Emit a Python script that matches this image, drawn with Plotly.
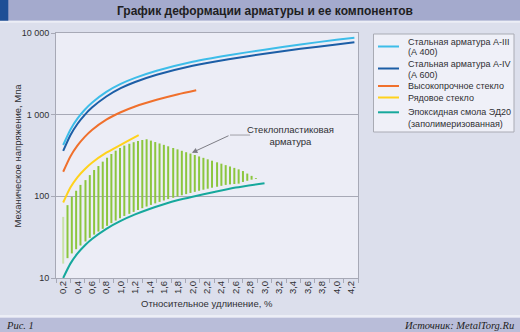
import plotly.graph_objects as go

# ---------------- data ----------------
x_tick_vals = [0.2, 0.4, 0.6, 0.8, 1.0, 1.2, 1.4, 1.6, 1.8, 2.0, 2.2, 2.4, 2.6, 2.8, 3.0,
               3.2, 3.4, 3.6, 3.8, 4.0, 4.2]
x_tick_text = ["0,2", "0,4", "0,6", "0,8", "1,0", "1,2", "1,4", "1,6", "1,8", "2,0", "2,2",
               "2,4", "2,6", "2,8", "3,0", "3,2", "3,4", "3,6", "3,8", "4,0", "4,2"]
x_minor_vals = [0.1, 0.3, 0.5, 0.7, 0.9, 1.1, 1.3, 1.5, 1.7, 1.9, 2.1, 2.3, 2.5, 2.7, 2.9,
                3.1, 3.3, 3.5, 3.7, 3.9, 4.1, 4.3]
y_tick_vals = [10, 100, 1000, 10000]
y_tick_text = ["10", "100", "1 000", "10 000"]

strain_steel = [0.2, 0.3, 0.4, 0.5, 0.6, 0.8, 1.0, 1.2, 1.5, 2.0, 2.5, 3.0, 3.5, 4.0, 4.25]
stress_a3 = [425, 655, 900, 1150, 1400, 1900, 2380, 2820, 3450, 4450, 5350, 6250, 7250, 8250, 8750]
stress_a4 = [360, 560, 775, 995, 1220, 1670, 2110, 2510, 3080, 3980, 4780, 5560, 6400, 7250, 7700]

strain_hs_glass = [0.2, 0.3, 0.4, 0.5, 0.6, 0.8, 1.0, 1.2, 1.5, 1.8, 2.05]
stress_hs_glass = [200, 308, 420, 535, 650, 870, 1070, 1260, 1520, 1780, 1990]

strain_glass = [0.2, 0.3, 0.4, 0.5, 0.6, 0.8, 1.0, 1.1, 1.25]
stress_glass = [84, 128, 172, 215, 258, 342, 428, 478, 560]

strain_epoxy = [0.2, 0.3, 0.4, 0.5, 0.6, 0.8, 1.0, 1.2, 1.4, 1.6, 1.8, 2.0, 2.3, 2.6, 3.0]
stress_epoxy = [10, 15, 20, 25, 30, 40, 50, 60, 70, 80, 90, 99, 113, 128, 145]

frp_strain = [0.20, 0.26, 0.32, 0.38, 0.44, 0.51, 0.57, 0.63, 0.69, 0.75, 0.81, 0.87, 0.93,
              0.99, 1.05, 1.12, 1.18, 1.24, 1.30, 1.36, 1.42, 1.48, 1.54, 1.60, 1.66, 1.73,
              1.79, 1.85, 1.91, 1.97, 2.03, 2.09, 2.15, 2.21, 2.27, 2.34, 2.40, 2.46, 2.52,
              2.58, 2.64, 2.70, 2.76, 2.82, 2.88]
frp_low = [15, 17.5, 20, 22.5, 25, 28, 31, 34, 37, 40, 43.5, 47, 50.5,
           54, 57.5, 61, 64.5, 68, 71.5, 75, 78.5, 82, 85.5, 89, 92.5, 96,
           99.5, 103, 106.5, 110, 113.5, 117, 120.5, 124, 127.5, 131, 134.5, 138, 140,
           141.5, 143, 150, 155, 160, 163]
frp_high = [56, 78, 99, 117, 138, 158, 182, 210, 235, 266, 297, 330, 362,
            392, 418, 440, 460, 476, 490, 500, 481, 462, 444, 427, 410, 391,
            376, 361, 347, 334, 321, 308, 296, 284, 273, 261, 251, 241, 232,
            223, 214, 204, 190, 178, 167]

series_names = ["Стальная арматура А-III<br>(А 400)", "Стальная арматура А-IV<br>(А 600)",
                "Высокопрочное стекло", "Рядовое стекло",
                "Эпоксидная смола ЭД20<br>(заполимеризованная)"]
series_colors = ["#3dbde9", "#1c5ea6", "#f0702c", "#ffd21c", "#16a89c"]
frp_color = "#8cc63e"
frp_color_pale = "#c9e2a8"
frp_label = "Стеклопластиковая<br>арматура"

title_text = "График деформации арматуры и ее компонентов"
x_title = "Относительное удлинение, %"
y_title = "Механическое напряжение, Мпа"
fig_label = "Рис. 1"
source_text = "Источник: MetalTorg.Ru"

# ---------------- geometry helpers ----------------
W, H = 520, 332
ML, MR, MT, MB = 56, 162, 33, 54
PW, PH = W - ML - MR, H - MT - MB


def PX(px):
    return (px - ML) / PW


def PY(py):
    return (H - MB - py) / PH


FONT = "Liberation Sans, Arial, sans-serif"
GRID = "#a7a9b6"
TXT = "#2f2f33"

fig = go.Figure()

# fiberglass bars (vertical segments)
bx, by = [], []
for i, (s, lo, hi) in enumerate(zip(frp_strain, frp_low, frp_high)):
    if i == 0:
        continue
    bx += [s, s, None]
    by += [lo, hi, None]
fig.add_trace(go.Scatter(x=[frp_strain[0], frp_strain[0]], y=[frp_low[0], frp_high[0]],
                         mode="lines", line=dict(color=frp_color_pale, width=2),
                         showlegend=False, hoverinfo="skip"))
fig.add_trace(go.Scatter(x=bx, y=by, mode="lines", line=dict(color=frp_color, width=2),
                         showlegend=False, hoverinfo="skip", connectgaps=False))

curves = [(strain_steel, stress_a3), (strain_steel, stress_a4),
          (strain_hs_glass, stress_hs_glass), (strain_glass, stress_glass),
          (strain_epoxy, stress_epoxy)]
for (xs, ys), name, col in zip(curves, series_names, series_colors):
    fig.add_trace(go.Scatter(x=xs, y=ys, mode="lines", name=name,
                             line=dict(color=col, width=2, shape="spline", smoothing=0.6),
                             showlegend=False))

# dummy trace for the label axis
fig.add_trace(go.Scatter(x=[0.2], y=[None], xaxis="x2", yaxis="y", showlegend=False,
                         hoverinfo="skip"))

shapes = []
annotations = []

# title bar
shapes.append(dict(type="rect", xref="paper", yref="paper", x0=PX(0), x1=PX(W),
                   y0=PY(20.7), y1=PY(0), fillcolor="#a4aacd", line_width=0, layer="below"))
shapes.append(dict(type="rect", xref="paper", yref="paper", x0=PX(0), x1=PX(W),
                   y0=PY(22.7), y1=PY(20.7), fillcolor="#eceef6", line_width=0, layer="below"))
shapes.append(dict(type="rect", xref="paper", yref="paper", x0=PX(0), x1=PX(8.3),
                   y0=PY(20.7), y1=PY(0), fillcolor="#1e4f96", line_width=0, layer="below"))
# footer
shapes.append(dict(type="rect", xref="paper", yref="paper", x0=PX(0), x1=PX(W),
                   y0=PY(317.7), y1=PY(315), fillcolor="#eceef6", line_width=0, layer="below"))
shapes.append(dict(type="rect", xref="paper", yref="paper", x0=PX(0), x1=PX(W),
                   y0=PY(H), y1=PY(317.7), fillcolor="#b9bdd9", line_width=0, layer="below"))

annotations.append(dict(text=title_text, xref="paper", yref="paper", x=PX(264.5), y=PY(10.7),
                        xanchor="center", yanchor="middle", showarrow=False,
                        font=dict(family=FONT, size=12, color="#1e1e22", weight="bold")))
annotations.append(dict(text="<i>" + fig_label + "</i>", xref="paper", yref="paper",
                        x=PX(4), y=PY(325), xanchor="left", yanchor="middle", showarrow=False,
                        font=dict(family="Liberation Serif, serif", size=10.5, color="#1e1e22")))
annotations.append(dict(text="<i>" + source_text + "</i>", xref="paper", yref="paper",
                        x=PX(516), y=PY(325), xanchor="right", yanchor="middle", showarrow=False,
                        font=dict(family="Liberation Serif, serif", size=10.5, color="#1e1e22")))

# axis titles
annotations.append(dict(text=x_title, xref="paper", yref="paper", x=PX(207), y=PY(303.5),
                        xanchor="center", yanchor="middle", showarrow=False,
                        font=dict(family=FONT, size=9.5, color=TXT)))
annotations.append(dict(text=y_title, xref="paper", yref="paper", x=PX(16.5), y=PY(156),
                        xanchor="center", yanchor="middle", showarrow=False, textangle=-90,
                        font=dict(family=FONT, size=9.5, color=TXT)))

# legend box (manual)
shapes.append(dict(type="rect", xref="paper", yref="paper", x0=PX(373.5), x1=PX(514),
                   y0=PY(132), y1=PY(34), fillcolor="#eff0f8",
                   line=dict(color="#a9abb4", width=1)))
leg_line_y = [46.5, 68.5, 86, 97.5, 112.3]
leg_text_y = [[41.7, 51.5], [64.3, 75], [86], [97.5], [112.3, 123.5]]
for name, col, ly, tys in zip(series_names, series_colors, leg_line_y, leg_text_y):
    shapes.append(dict(type="line", xref="paper", yref="paper", x0=PX(378), x1=PX(399),
                       y0=PY(ly), y1=PY(ly), line=dict(color=col, width=2)))
    for part, ty in zip(name.split("<br>"), tys):
        annotations.append(dict(text=part, xref="paper", yref="paper", x=PX(405.5), y=PY(ty),
                                xanchor="left", yanchor="middle", showarrow=False,
                                font=dict(family=FONT, size=9, color=TXT)))

# fiberglass label + leader
annotations.append(dict(text=frp_label, xref="paper", yref="paper", x=PX(290.5), y=PY(135.5),
                        xanchor="center", yanchor="middle", showarrow=False,
                        font=dict(family=FONT, size=9.5, color=TXT)))
elbow_x, elbow_y = 2.52, 563
shapes.append(dict(type="line", xref="x", yref="y", x0=elbow_x, y0=elbow_y, x1=2.80, y1=elbow_y,
                   line=dict(color="#a0a0a8", width=1)))
annotations.append(dict(text="", x=1.99, y=2.534, xref="x", yref="y", ax=elbow_x,
                        ay=2.7505, axref="x", ayref="y", showarrow=True, arrowhead=2,
                        arrowsize=1.1, arrowwidth=1, arrowcolor="#7d7d85", standoff=0))

fig.update_layout(
    width=W, height=H,
    margin=dict(l=ML, r=MR, t=MT, b=MB, pad=0),
    paper_bgcolor="#dcdfec",
    plot_bgcolor="#ecedf6",
    showlegend=False,
    font=dict(family=FONT, size=9, color=TXT),
    shapes=shapes,
    annotations=annotations,
    xaxis=dict(range=[0.1, 4.3], tickmode="array", tickvals=x_minor_vals, showticklabels=False,
               ticks="outside", ticklen=4, tickcolor=GRID, showgrid=False, zeroline=False,
               showline=True, linecolor=GRID, linewidth=1, mirror=True),
    xaxis2=dict(range=[0.1, 4.3], overlaying="x", anchor="y", side="bottom",
                tickmode="array", tickvals=x_tick_vals, ticktext=x_tick_text, tickangle=-90,
                ticks="", showgrid=False, zeroline=False, showline=False,
                tickfont=dict(size=9.5, color=TXT)),
    yaxis=dict(type="log", range=[1, 4], tickmode="array", tickvals=y_tick_vals,
               ticktext=y_tick_text, ticks="outside", ticklen=4, tickcolor=GRID,
               showgrid=True, gridcolor=GRID, gridwidth=1, zeroline=False,
               showline=True, linecolor=GRID, linewidth=1, mirror=True,
               tickfont=dict(size=9, color=TXT)),
)

fig.write_html("out.html")
